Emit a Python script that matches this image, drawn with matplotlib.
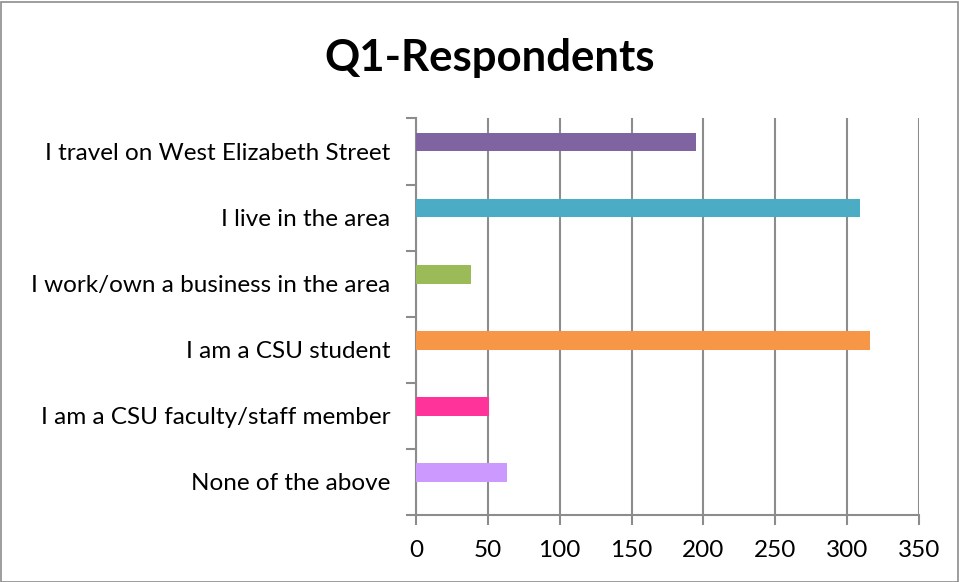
import matplotlib
matplotlib.use("Agg")
import matplotlib.pyplot as plt
from matplotlib.patches import Rectangle

categories = [
    "I travel on West Elizabeth Street",
    "I live in the area",
    "I work/own a business in the area",
    "I am a CSU student",
    "I am a CSU faculty/staff member",
    "None of the above",
]
values = [195, 309, 38, 316, 51, 63]
colors = ["#8064A2", "#4BACC6", "#9BBB59", "#F79646", "#FF3399", "#CC99FF"]
xticks = [0, 50, 100, 150, 200, 250, 300, 350]

plt.rcParams['font.family'] = ['Lato', 'DejaVu Sans']

fig = plt.figure(figsize=(9.59, 5.82), dpi=100)
ax = fig.add_axes([416/959, 1 - 515/582, (919-416)/959, (515-118.5)/582])

pos = [i - 0.143 for i in range(len(categories))]
ax.barh(pos, values, height=0.28, color=colors, zorder=3)

ax.set_xlim(0, 350)
ax.set_ylim(len(categories) - 0.5, -0.5)
ax.set_xticks(xticks)
ax.set_xticklabels([str(t) for t in xticks])
ax.set_yticks([i - 0.5 for i in range(len(categories) + 1)], minor=False)
ax.set_yticklabels([""] * (len(categories) + 1))
ax.set_yticks(range(len(categories)), minor=True)
ax.set_yticklabels(categories, minor=True)

gc = "#8c8c8c"
ax.grid(axis='x', color=gc, linewidth=1.5, zorder=1)
for s in ['top', 'right']:
    ax.spines[s].set_visible(False)
for s in ['left', 'bottom']:
    ax.spines[s].set_color(gc)
    ax.spines[s].set_linewidth(1.5)
ax.tick_params(axis='y', which='major', length=7, width=1.5, color=gc, direction='out')
ax.tick_params(axis='y', which='minor', length=0, pad=18.5, labelsize=17.5, labelcolor='black')
ax.tick_params(axis='x', length=7, width=1.5, color=gc, direction='out', pad=11, labelsize=17.5)

fig.text(490/959, 1 - 58/582, "Q1-Respondents", ha='center', va='center',
         fontsize=31.5, fontweight='bold')

fig.patches.append(Rectangle((0.5/959, 0.5/582), 957/959, 580/582, transform=fig.transFigure,
                             fill=False, edgecolor="#8c8c8c", linewidth=1.2))

fig.savefig("out.png", dpi=100)
